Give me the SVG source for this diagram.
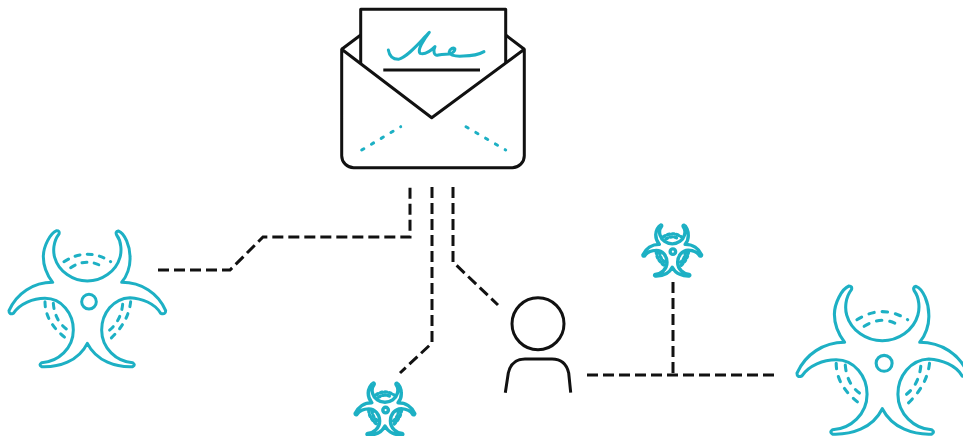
<svg xmlns="http://www.w3.org/2000/svg" width="963" height="436" viewBox="0 0 963 436">
<style>
.bg{fill:#fff}
.k{fill:none;stroke:#111;stroke-width:3;stroke-linecap:butt;stroke-linejoin:round}
.dash{fill:none;stroke:#111;stroke-width:3;stroke-dasharray:11 5}
.t{fill:none;stroke:#1db0c4;stroke-linejoin:round;stroke-linecap:round}
.dots{fill:none;stroke:#1db0c4;stroke-linecap:round;stroke-dasharray:15 22}
.edots{fill:none;stroke:#1db0c4;stroke-width:3;stroke-linecap:round;stroke-dasharray:2.5 8.85}
</style>
<defs>
<g id="bio">
<path class="t" d="M170 32C150 40 130 80 130 110C130 140 145 170 158 187C100 187 50 220 27 272Q27 285 40 280C60 250 100 235 135 235C185 235 220 280 220 330C220 385 175 425 125 428Q115 435 125 440C175 442 235 425 262 370C290 425 350 442 398 440Q408 435 398 428C350 425 305 385 305 330C305 280 340 235 390 233C425 235 465 250 482 280Q497 285 497 272C475 220 425 187 365 187C380 170 392 140 390 110C390 80 375 40 355 33Q345 35 350 45C365 65 365 95 360 112C348 155 305 183 262 183C219 183 176 155 164 112C159 95 159 65 177 42Q180 32 170 32Z"/>
<circle class="t" cx="267" cy="245" r="22"/>
<g class="dots">
<path d="M192 125Q262 80 332 125"/><path d="M212 143Q262 110 312 143"/>
<path d="M135 245Q135 310 205 360"/><path d="M160 250Q165 310 212 335"/>
<path d="M392 245Q385 310 325 362"/><path d="M368 253Q362 310 318 338"/>
</g>
</g>
</defs>
<rect class="bg" width="963" height="436"/>
<g id="connectors">
<path class="dash" d="M158 270H230L263 237H410V187"/>
<path class="dash" d="M432 187V343L400 373"/>
<path class="dash" d="M453 187V262L498 305"/>
<path class="dash" d="M587 375H775"/>
<path class="dash" d="M673 282V375"/>
</g>
<g id="envelope">
<path class="k" d="M341.7 49.3L360.7 35M505.7 35L524.3 49.3"/>
<path class="k" d="M360.7 63V9.3H505.7V63"/>
<path class="k" d="M383.3 70H480"/>
<path class="k" d="M341.7 49.3V155.7A12 12 0 0 0 353.7 167.7H512.3A12 12 0 0 0 524.3 155.7V49.3L431.7 117.7Z"/>
<path class="edots" d="M361.7 150L400.7 126.7"/>
<path class="edots" d="M466 126.7L505.7 150"/>
<path class="t" transform="translate(330 0) scale(.3333)" style="stroke-width:9" d="M175 150Q180 178 205 178C235 170 270 125 298 97C280 120 262 150 270 160C285 165 305 150 315 140C310 150 310 170 325 165C345 160 350 165 365 160C385 145 370 140 360 150C350 165 375 170 400 168C420 168 445 165 462 155"/>
</g>
<g id="person">
<circle class="k" cx="538" cy="323.7" r="26"/>
<path class="k" d="M505.3 392.7L508.3 373Q511.5 359 525 359H552Q565.5 359 568.7 373L570.7 392.7"/>
</g>
<g id="bio-left"><use href="#bio" transform="translate(0 220) scale(.3333)" style="stroke-width:9"/></g>
<g id="bio-right"><use href="#bio" transform="translate(787.2 274.4) scale(.363)" style="stroke-width:8.5"/></g>
<g id="bio-top"><use href="#bio" transform="translate(639.5 221) scale(.125)" style="stroke-width:27"/></g>
<g id="bio-bottom"><use href="#bio" transform="translate(351.7 379) scale(.127)" style="stroke-width:27"/></g>
</svg>
